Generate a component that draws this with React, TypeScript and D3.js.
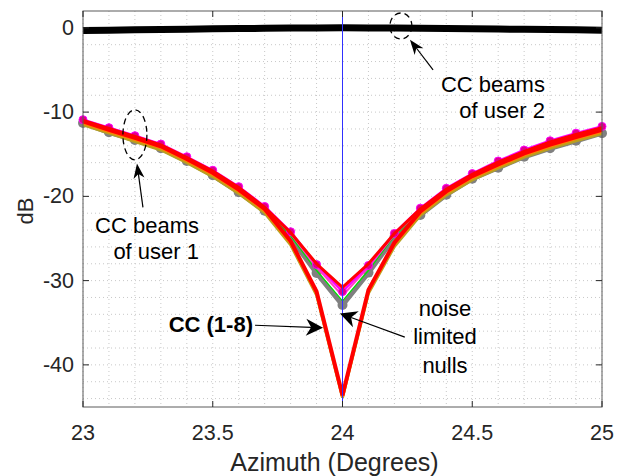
import React from "react";
import * as d3 from "d3";

const angles = [23, 23.1, 23.2, 23.3, 23.4, 23.5, 23.6, 23.7, 23.8, 23.9, 24, 24.1, 24.2, 24.3, 24.4, 24.5, 24.6, 24.7, 24.8, 24.9, 25];

const user2 = [-0.32, -0.28, -0.24, -0.2, -0.16, -0.12, -0.09, -0.06, -0.03, -0.01, 0, -0.01, -0.03, -0.06, -0.09, -0.12, -0.15, -0.18, -0.21, -0.24, -0.28];

const nlGray = [-11.3, -12.4, -13.3, -14.3, -15.8, -17.5, -19.5, -21.7, -24.9, -29.1, -32.9, -29.05, -24.9, -22.2, -19.8, -17.9, -16.6, -15.3, -14.3, -13.4, -12.5];
const nlGreen = [-11.15, -12.25, -13.15, -14.15, -15.65, -17.35, -19.35, -21.55, -24.7, -28.8, -32.4, -28.8, -24.7, -21.95, -19.55, -17.65, -16.35, -15.05, -14.05, -13.15, -12.25];
const nlMagenta = [-10.9, -11.85, -12.8, -13.8, -15.3, -16.9, -18.85, -21.2, -24.2, -28.1, -31.3, -28.2, -24.4, -21.4, -19.05, -17.3, -15.8, -14.5, -13.4, -12.5, -11.7];
const nlPink = [-11.0, -12.0, -12.95, -13.95, -15.45, -17.05, -19.0, -21.35, -24.4, -28.4, -31.8, -28.4, -24.55, -21.6, -19.25, -17.45, -16.0, -14.7, -13.6, -12.7, -11.9];
const nlRed = [-11.0, -11.95, -12.9, -13.9, -15.4, -17.0, -18.95, -21.3, -24.3, -28.0, -30.8, -28.0, -24.4, -21.5, -19.15, -17.4, -15.95, -14.65, -13.55, -12.65, -11.85];

const ccOlive = [-11.5, -12.5, -13.5, -14.5, -16.0, -17.65, -19.65, -21.95, -25.75, -31.7, -43.9, -31.5, -25.95, -22.25, -19.85, -18.05, -16.65, -15.35, -14.3, -13.4, -12.55];
const ccOrange = [-11.3, -12.3, -13.25, -14.25, -15.75, -17.4, -19.4, -21.7, -25.5, -31.5, -43.8, -31.3, -25.7, -22.0, -19.6, -17.8, -16.4, -15.1, -14.05, -13.15, -12.3];
const ccRed = [-11.1, -12.1, -13.05, -14.05, -15.55, -17.2, -19.2, -21.5, -25.3, -31.3, -43.6, -31.1, -25.5, -21.8, -19.4, -17.6, -16.2, -14.9, -13.85, -12.95, -12.1];

const xTicks = [23, 23.5, 24, 24.5, 25];
const yTicks = [-40, -30, -20, -10, 0];

const W = 628, H = 476;
const L = 83, R = 602, T = 11, B = 407;

export default function App() {
  const x = d3.scaleLinear().domain([23, 25]).range([L, R]);
  const y = d3.scaleLinear().domain([-45, 2]).range([B, T]);
  const line = (vals: number[]) =>
    d3.line<number>().x((_, i) => x(angles[i])).y((d) => y(d))(vals) || "";

  const minorX = d3.range(0, 21).map((i) => 23 + i * 0.1);
  const minorY = d3.range(-44, 2, 2);
  const font = "'Liberation Sans', Arial, Helvetica, sans-serif";
  const axisColor = "#262626";

  const arrow = (x1: number, y1: number, x2: number, y2: number, len: number, wid: number, key: string) => {
    const dx = x2 - x1, dy = y2 - y1;
    const d = Math.hypot(dx, dy);
    const ux = dx / d, uy = dy / d;
    const bx = x2 - ux * len, by = y2 - uy * len;
    const px = -uy * wid / 2, py = ux * wid / 2;
    const notchX = x2 - ux * len * 0.7, notchY = y2 - uy * len * 0.7;
    return (
      <g key={key}>
        <line x1={x1} y1={y1} x2={notchX} y2={notchY} stroke="#000" strokeWidth={1.2} />
        <path d={`M${x2},${y2}L${bx + px},${by + py}L${notchX},${notchY}L${bx - px},${by - py}Z`} fill="#000" />
      </g>
    );
  };

  return (
    <svg width={W} height={H} style={{ position: "absolute", left: 0, top: 0, background: "#fff" }} fontFamily={font}>
      <rect x={0} y={0} width={W} height={H} fill="#fff" />
      {/* grid */}
      <g stroke="#c8c8c8" strokeWidth={1} strokeDasharray="1,3">
        {minorX.map((v, i) => (
          <line key={"gx" + i} x1={x(v)} x2={x(v)} y1={T} y2={B} />
        ))}
        {minorY.map((v, i) => (
          <line key={"gy" + i} x1={L} x2={R} y1={y(v)} y2={y(v)} />
        ))}
      </g>
      {/* user 2 */}
      <path d={line(user2)} fill="none" stroke="#000" strokeWidth={7} />
      {/* noise-limited bundle */}
      <path d={line(nlGray)} fill="none" stroke="#808080" strokeWidth={5} />
      {nlGray.map((v, i) => (
        <circle key={"g" + i} cx={x(angles[i])} cy={y(v)} r={5} fill="#808080" />
      ))}
      <path d={line(nlGreen)} fill="none" stroke="#00e000" strokeWidth={1.2} />
      <path d={line(nlPink)} fill="none" stroke="#ff40c0" strokeWidth={2} />
      <path d={line(nlMagenta)} fill="none" stroke="#ff00ff" strokeWidth={2.5} />
      {nlMagenta.map((v, i) => (
        <circle key={"m" + i} cx={x(angles[i])} cy={y(v)} r={4} fill="#e0008a" stroke="#ff00ff" strokeWidth={1} />
      ))}
      <path d={line(nlRed)} fill="none" stroke="#ff0000" strokeWidth={3} />
      {/* CC lines */}
      <path d={line(ccOlive)} fill="none" stroke="#b8a020" strokeWidth={3} />
      <path d={line(ccOrange)} fill="none" stroke="#ff8000" strokeWidth={3} />
      <path d={line(ccRed)} fill="none" stroke="#ff0000" strokeWidth={4} />
      {/* blue vertical */}
      <line x1={x(24)} x2={x(24)} y1={T} y2={B} stroke="#3030ff" strokeWidth={1} />
      {/* axes box */}
      <g stroke={axisColor} strokeWidth={1} fill="none">
        <rect x={L} y={T} width={R - L} height={B - T} stroke="#5a5a5a" />
        {xTicks.map((v, i) => (
          <g key={"xt" + i}>
            <line x1={x(v)} x2={x(v)} y1={B} y2={B - 6} />
            <line x1={x(v)} x2={x(v)} y1={T} y2={T + 6} />
          </g>
        ))}
        {yTicks.map((v, i) => (
          <g key={"yt" + i}>
            <line x1={L} x2={L + 6} y1={y(v)} y2={y(v)} />
            <line x1={R} x2={R - 6} y1={y(v)} y2={y(v)} />
          </g>
        ))}
      </g>
      <g fill={axisColor} fontSize={21.5}>
        {xTicks.map((v, i) => (
          <text key={"xl" + i} x={x(v)} y={440} textAnchor="middle">
            {String(v)}
          </text>
        ))}
        {yTicks.map((v, i) => (
          <text key={"yl" + i} x={L - 9} y={y(v)} textAnchor="end" dominantBaseline="central">
            {String(v)}
          </text>
        ))}
        <text x={(L + R) / 2 - 8} y={471} textAnchor="middle" fontSize={25}>
          Azimuth (Degrees)
        </text>
        <text transform={`translate(33,${(T + B) / 2 + 2}) rotate(-90)`} textAnchor="middle" fontSize={22}>
          dB
        </text>
      </g>
      {/* annotations */}
      <g fill="none" stroke="#000" strokeWidth={1.3} strokeDasharray="6,4">
        <ellipse cx={x(24.225)} cy={y(0.22)} rx={11} ry={13} />
        <ellipse cx={x(23.2)} cy={y(-12.7)} rx={12} ry={25} />
      </g>
      {arrow(x(24.349), y(-5.0), x(24.26), y(-1.4), 15, 11, "a1")}
      {arrow(x(23.231), y(-21.3), x(23.208), y(-16.1), 15, 11, "a2")}
      {arrow(x(23.663), y(-35.3), x(23.925), y(-35.6), 17, 17, "a3")}
      {arrow(x(24.24), y(-36.7), x(23.99), y(-33.9), 17, 17, "a4")}
      <g fill="#000" fontSize={22}>
        <text x={x(24.78)} y={y(-7.6)} textAnchor="end">CC beams</text>
        <text x={x(24.78)} y={y(-10.7)} textAnchor="end">of user 2</text>
        <text x={x(23.447)} y={y(-24.35)} textAnchor="end">CC beams</text>
        <text x={x(23.447)} y={y(-27.4)} textAnchor="end">of user 1</text>
        <text x={x(23.655)} y={y(-36.1)} textAnchor="end" fontWeight="bold">CC (1-8)</text>
        <text x={x(24.395)} y={y(-34.2)} textAnchor="middle">noise</text>
        <text x={x(24.395)} y={y(-37.5)} textAnchor="middle">limited</text>
        <text x={x(24.395)} y={y(-41.0)} textAnchor="middle">nulls</text>
      </g>
    </svg>
  );
}
